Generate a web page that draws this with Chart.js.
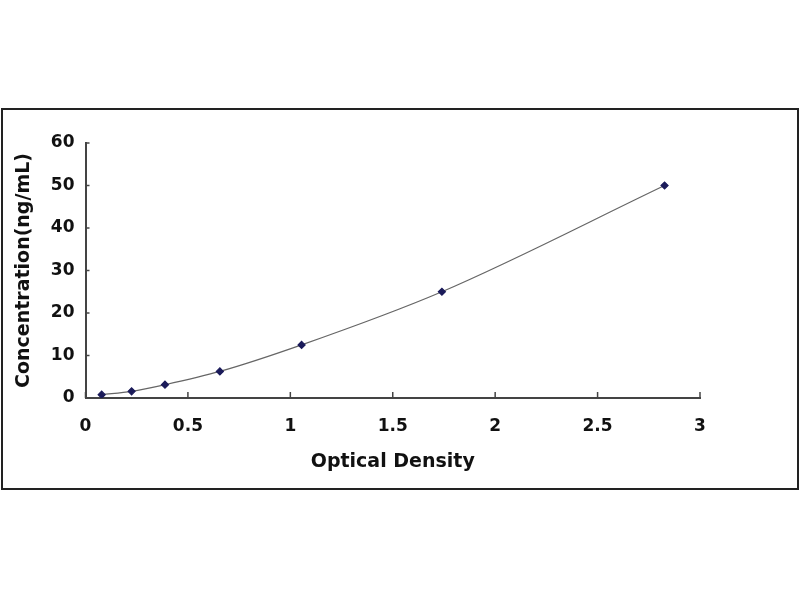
<!DOCTYPE html>
<html>
<head>
<meta charset="utf-8">
<script src="https://cdn.jsdelivr.net/npm/chart.js@4"></script>
<style>
    body { margin: 0; background: #fff; width: 800px; height: 600px; overflow: hidden; }
    #frame {
        position: absolute; left: 1px; top: 108px;
        width: 794px; height: 378px;
        border: 2px solid #222;
    }
</style>
</head>
<body>
<div id="frame"><canvas id="chart" width="794" height="378"></canvas></div>
<script>
// standard curve readings
const opticalDensity = [0.079, 0.225, 0.388, 0.656, 1.055, 1.74, 2.827];
const concentration = [0.78, 1.56, 3.125, 6.25, 12.5, 25, 50];
const xTickLabels = ['0', '0.5', '1', '1.5', '2', '2.5', '3'];
const yTickLabels = ['0', '10', '20', '30', '40', '50', '60'];

const points = opticalDensity.map((x, i) => ({ x: x, y: concentration[i] }));

// small tick marks pointing into the plot
const innerTicks = {
    id: 'innerTicks',
    afterDraw(chart) {
        const ctx = chart.ctx;
        const xs = chart.scales.x, ys = chart.scales.y;
        ctx.save();
        ctx.strokeStyle = '#444';
        ctx.lineWidth = 1.5;
        xs.ticks.forEach(t => {
            const px = xs.getPixelForValue(t.value);
            ctx.beginPath();
            ctx.moveTo(px, ys.bottom);
            ctx.lineTo(px, ys.bottom - 6);
            ctx.stroke();
        });
        ys.ticks.forEach(t => {
            const py = ys.getPixelForValue(t.value);
            ctx.beginPath();
            ctx.moveTo(xs.left, py);
            ctx.lineTo(xs.left + 4, py);
            ctx.stroke();
        });
        ctx.restore();
    }
};

new Chart(document.getElementById('chart').getContext('2d'), {
    type: 'line',
    data: {
        datasets: [{
            data: points,
            borderColor: '#666',
            borderWidth: 1.2,
            cubicInterpolationMode: 'monotone',
            pointStyle: 'rectRot',
            pointRadius: 3.5,
            pointBackgroundColor: '#1b1b5a',
            pointBorderColor: '#1b1b5a',
            fill: false
        }]
    },
    options: {
        responsive: false,
        animation: false,
        layout: { padding: { left: 0, top: 33, right: 97, bottom: 0 } },
        plugins: {
            legend: { display: false },
            tooltip: { enabled: false }
        },
        scales: {
            x: {
                type: 'linear',
                min: 0,
                max: 3,
                afterFit: s => { s.height = 90; },
                afterBuildTicks: s => { s.ticks = xTickLabels.map(v => ({ value: parseFloat(v) })); },
                grid: { display: true, drawOnChartArea: false, drawTicks: false },
                border: { color: '#444', width: 2 },
                ticks: {
                    padding: 18,
                    color: '#111',
                    font: { family: 'DejaVu Sans', size: 17, weight: 'bold' },
                    callback: (v, i) => xTickLabels[i]
                },
                title: {
                    display: true,
                    text: 'Optical Density',
                    color: '#111',
                    padding: { top: 4, bottom: 15 },
                    font: { family: 'DejaVu Sans', size: 19, weight: 'bold' }
                }
            },
            y: {
                type: 'linear',
                min: 0,
                max: 60,
                afterFit: s => { s.width = 82.5; },
                afterBuildTicks: s => { s.ticks = yTickLabels.map(v => ({ value: parseFloat(v) })); },
                grid: { display: true, drawOnChartArea: false, drawTicks: false },
                border: { color: '#444', width: 2 },
                ticks: {
                    padding: 11,
                    color: '#111',
                    font: { family: 'DejaVu Sans', size: 17, weight: 'bold' },
                    callback: (v, i) => yTickLabels[i]
                },
                title: {
                    display: true,
                    text: 'Concentration(ng/mL)',
                    color: '#111',
                    padding: { top: 10, bottom: 0 },
                    font: { family: 'DejaVu Sans', size: 19, weight: 'bold' }
                }
            }
        }
    },
    plugins: [innerTicks]
});
</script>
</body>
</html>
